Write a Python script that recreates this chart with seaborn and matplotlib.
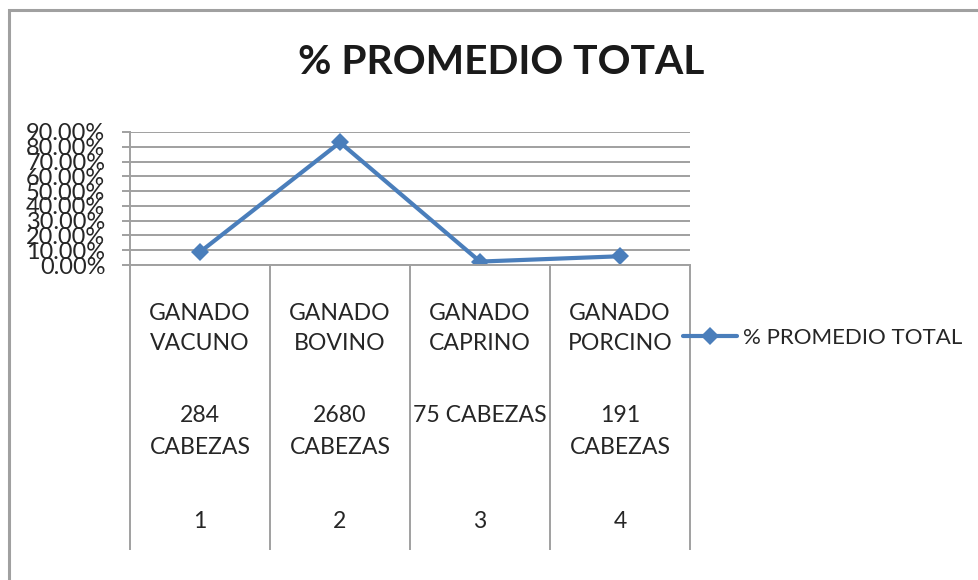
import pandas as pd
import numpy as np
import seaborn as sns
import matplotlib.pyplot as plt
from matplotlib.patches import Rectangle
from matplotlib.ticker import FixedLocator, PercentFormatter
from matplotlib.transforms import blended_transform_factory

# Data
posiciones = [1, 2, 3, 4]
especies = ["VACUNO", "BOVINO", "CAPRINO", "PORCINO"]
cabezas = ["284\nCABEZAS", "2680\nCABEZAS", "75 CABEZAS", "191\nCABEZAS"]
promedio = [0.0879, 0.8297, 0.0232, 0.0591]
serie = "% PROMEDIO TOTAL"

df = pd.DataFrame({"pos": posiciones, "valor": promedio})

sns.set_theme(style="white")
plt.rcParams["font.family"] = ["Lato", "DejaVu Sans"]

W, H = 979, 580
azul = "#4a7ebb"
gris = "#a0a0a0"
texto = "#262626"

fig = plt.figure(figsize=(W / 100, H / 100), dpi=100)
ax = fig.add_axes([130 / W, 1 - 265 / H, 560 / W, 133 / H])

sns.lineplot(data=df, x="pos", y="valor", ax=ax, color=azul, linewidth=3,
             marker="D", markersize=9.5, markeredgewidth=0, label=serie)

ax.set_xlim(0.5, 4.5)
ax.set_ylim(0, 0.9)
ax.set_yticks(np.arange(0, 0.91, 0.1))
ax.yaxis.set_major_formatter(PercentFormatter(xmax=1, decimals=2))
ax.yaxis.grid(True, color=gris, linewidth=1.4)
ax.set_xlabel("")
ax.set_ylabel("")

for s in ["top", "right"]:
    ax.spines[s].set_visible(False)
for s in ["left", "bottom"]:
    ax.spines[s].set_color(gris)
    ax.spines[s].set_linewidth(1.4)

# y labels overlap each other in the original too
ax.tick_params(axis="y", which="major", left=True, length=5.8, width=1.4, color=gris,
               pad=12, labelsize=16.9, labelcolor=texto)
ax.set_xticks(posiciones)
ax.set_xticklabels([])
ax.tick_params(axis="x", which="major", length=0)
# category separators as long minor ticks
ax.xaxis.set_minor_locator(FixedLocator(np.arange(0.5, 4.6, 1)))
ax.tick_params(axis="x", which="minor", bottom=True, length=285 * 0.72, width=1.4,
               color=gris, direction="out")

# category label rows
tr = blended_transform_factory(ax.transData, fig.transFigure)
fs = 16.6
for p, esp, cab in zip(posiciones, especies, cabezas):
    for line, yb in zip(["GANADO", esp], [320, 350]):
        ax.text(p, 1 - yb / H, line, transform=tr, ha="center", va="baseline",
                fontsize=fs, color=texto)
    for line, yb in zip(cab.split("\n"), [422, 454]):
        ax.text(p, 1 - yb / H, line, transform=tr, ha="center", va="baseline",
                fontsize=fs, color=texto)
    ax.text(p, 1 - 528 / H, str(p), transform=tr, ha="center", va="baseline",
            fontsize=fs, color=texto)

leg = ax.legend(loc="center left", bbox_to_anchor=(683 / W, 1 - 338 / H),
                bbox_transform=fig.transFigure, frameon=False, borderpad=0,
                borderaxespad=0, handlelength=2.45, handletextpad=0.25,
                fontsize=16.0)
for t in leg.get_texts():
    t.set_color(texto)

fig.text(501 / W, 1 - 74 / H, "% PROMEDIO TOTAL", ha="center", va="baseline",
         fontsize=29.3, fontweight="bold", color="#1a1a1a")

# outer chart border
fig.patches.append(Rectangle((9 / W, -0.1), 1.2, 1.1 - 10 / H, transform=fig.transFigure,
                             fill=False, edgecolor=gris, linewidth=2.2, clip_on=False))

fig.savefig("out.png", dpi=100)
